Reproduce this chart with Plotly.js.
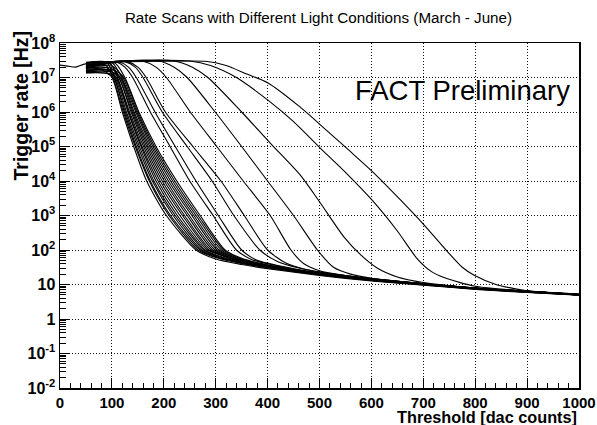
<!DOCTYPE html>
<html><head><meta charset="utf-8">
<script src="https://cdn.plot.ly/plotly-3.0.1.min.js"></script>
<style>html,body{margin:0;padding:0;background:#fff}</style>
</head><body><div id="chart" style="width:597px;height:425px"></div>
<script>
const chartTitle = 'Rate Scans with Different Light Conditions (March - June)';
const xTitle = 'Threshold [dac counts]';
const yTitle = 'Trigger rate [Hz]';
const watermark = 'FACT Preliminary';
const xTickVals = [0,100,200,300,400,500,600,700,800,900,1000];
const xTickText = ['0','100','200','300','400','500','600','700','800','900','1000'];
const yTickVals = [1e-2,1e-1,1,10,1e2,1e3,1e4,1e5,1e6,1e7,1e8];
const yTickText = ['10<sup>-2</sup>','10<sup>-1</sup>','1','10','10<sup>2</sup>','10<sup>3</sup>','10<sup>4</sup>','10<sup>5</sup>','10<sup>6</sup>','10<sup>7</sup>','10<sup>8</sup>'];

// threshold [dac counts] of each rate scan
const scanThreshold = [
 [50,82,100,120,142,167,205,262,300,350,400,500,600,700,800,900,1000],
 [50,70,88,102,122,145,172,210,266,300,350,400,500,600,700,800,900,1000],
 [50,86,103,124,147,174,213,270,300,350,400,500,600,700,800,900,1000],
 [50,75,92,105,126,150,178,218,273,300,350,400,500,600,700,800,900,1000],
 [50,88,106,128,153,181,222,277,300,350,400,500,600,700,800,900,1000],
 [50,90,108,131,156,185,226,280,300,350,400,500,600,700,800,900,1000],
 [50,93,109,132,158,189,231,284,300,350,400,500,600,700,800,900,1000],
 [50,80,96,111,134,161,193,236,287,300,350,400,500,600,700,800,900,1000],
 [50,95,113,137,164,197,240,291,350,400,500,600,700,800,900,1000],
 [50,78,98,114,139,167,201,245,295,350,400,500,600,700,800,900,1000],
 [50,98,116,141,170,205,249,299,350,400,500,600,700,800,900,1000],
 [50,100,117,143,173,209,254,303,350,400,500,600,700,800,900,1000],
 [50,80,101,119,146,176,213,258,307,350,400,500,600,700,800,900,1000],
 [50,102,121,148,179,217,262,311,350,400,500,600,700,800,900,1000],
 [50,104,123,150,182,221,266,315,350,400,500,600,700,800,900,1000],
 [50,82,106,125,152,185,225,270,318,350,400,500,600,700,800,900,1000],
 [50,80,110,125,140,174,212,250,295,340,370,400,450,500,600,700,800,900,1000],
 [50,85,115,132,147,183,222,262,305,350,380,420,500,600,700,800,900,1000],
 [50,90,125,145,160,197,245,293,335,385,420,460,500,600,700,800,900,1000],
 [50,95,130,150,166,203,256,310,355,400,435,470,520,600,700,800,900,1000],
 [50,100,160,185,205,251,302,353,405,445,470,500,550,600,700,800,900,1000],
 [50,110,190,220,245,299,350,400,450,496,527,560,600,700,800,900,1000],
 [50,120,220,255,285,350,405,463,500,547,580,611,650,700,800,900,1000],
 [50,130,250,290,340,400,450,505,550,601,650,688,715,740,800,900,1000],
 [0,15,30,45,60,100,200,280,320,360,400,463,500,556,600,656,700,749,775,798,840,875,900,1000]
];
// log10 of the trigger rate [Hz], same order
const scanLog10Rate = [
 [7.2,7.21,7.0,6.0,5.0,4.0,3.0,2.0,1.74,1.58,1.46,1.26,1.1,0.98,0.86,0.77,0.69],
 [7.38,7.4,7.36,7.0,6.0,5.0,4.0,3.0,2.0,1.78,1.61,1.5,1.3,1.14,1.01,0.89,0.79,0.71],
 [7.14,7.13,7.0,6.0,5.0,4.0,3.0,2.0,1.8,1.63,1.5,1.29,1.13,1.0,0.88,0.78,0.7],
 [7.42,7.45,7.4,7.0,6.0,5.0,4.0,3.0,2.0,1.82,1.62,1.49,1.28,1.12,0.99,0.87,0.78,0.7],
 [7.25,7.24,7.0,6.0,5.0,4.0,3.0,2.0,1.84,1.65,1.52,1.31,1.15,1.02,0.89,0.8,0.71],
 [7.3,7.28,7.0,6.0,5.0,4.0,3.0,2.0,1.86,1.63,1.5,1.29,1.13,1.0,0.88,0.79,0.7],
 [7.13,7.12,7.0,6.0,5.0,4.0,3.0,2.0,1.9,1.66,1.52,1.3,1.14,1.01,0.88,0.79,0.7],
 [7.44,7.47,7.42,7.0,6.0,5.0,4.0,3.0,2.0,1.92,1.64,1.5,1.29,1.13,1.0,0.87,0.78,0.7],
 [7.2,7.2,7.0,6.0,5.0,4.0,3.0,2.0,1.67,1.53,1.31,1.15,1.02,0.89,0.8,0.71],
 [7.37,7.42,7.38,7.0,6.0,5.0,4.0,3.0,2.0,1.66,1.51,1.3,1.13,1.0,0.88,0.79,0.7],
 [7.28,7.27,7.0,6.0,5.0,4.0,3.0,2.0,1.68,1.53,1.3,1.14,1.01,0.88,0.79,0.7],
 [7.17,7.16,7.0,6.0,5.0,4.0,3.0,2.0,1.7,1.54,1.32,1.16,1.02,0.89,0.8,0.71],
 [7.42,7.46,7.42,7.0,6.0,5.0,4.0,3.0,2.0,1.7,1.53,1.31,1.14,1.0,0.88,0.79,0.7],
 [7.32,7.32,7.0,6.0,5.0,4.0,3.0,2.0,1.72,1.55,1.33,1.16,1.03,0.9,0.8,0.71],
 [7.22,7.21,7.0,6.0,5.0,4.0,3.0,2.0,1.74,1.56,1.32,1.15,1.02,0.89,0.8,0.71],
 [7.4,7.46,7.42,7.0,6.0,5.0,4.0,3.0,2.0,1.76,1.57,1.33,1.16,1.02,0.9,0.8,0.71],
 [7.3,7.43,7.44,7.3,7.0,6.0,5.0,4.0,3.0,2.0,1.72,1.6,1.44,1.32,1.15,1.01,0.89,0.79,0.71],
 [7.25,7.44,7.45,7.3,7.0,6.0,5.0,4.0,3.0,2.0,1.7,1.55,1.33,1.15,1.01,0.89,0.79,0.71],
 [7.35,7.45,7.46,7.3,7.0,6.0,5.0,4.0,3.0,2.0,1.66,1.48,1.36,1.16,1.02,0.89,0.8,0.71],
 [7.28,7.45,7.46,7.3,7.0,6.0,5.0,4.0,3.0,2.0,1.62,1.45,1.32,1.17,1.02,0.9,0.8,0.71],
 [7.33,7.46,7.47,7.3,7.0,6.0,5.0,4.0,3.0,2.0,1.6,1.4,1.26,1.17,1.02,0.89,0.79,0.71],
 [7.27,7.46,7.48,7.3,7.0,6.0,5.0,4.0,3.0,2.0,1.5,1.3,1.18,1.03,0.9,0.8,0.71],
 [7.36,7.47,7.48,7.3,7.0,6.0,5.1,4.17,3.4,2.38,1.85,1.48,1.22,1.06,0.9,0.8,0.71],
 [7.3,7.47,7.48,7.35,7.0,6.35,5.72,4.9,4.25,3.45,2.55,1.75,1.38,1.2,0.95,0.81,0.72],
 [7.36,7.33,7.3,7.38,7.42,7.45,7.47,7.47,7.35,7.1,6.85,6.14,5.65,4.9,4.3,3.45,2.75,1.91,1.5,1.27,1.0,0.88,0.82,0.72]
];

const traces = scanThreshold.map((xs, i) => ({
  x: xs,
  y: scanLog10Rate[i].map(v => Math.pow(10, v)),
  type: 'scatter', mode: 'lines',
  line: {color: '#000', width: 1.1, shape: 'spline', smoothing: 0.7},
  hoverinfo: 'skip', showlegend: false
}));

const fam = 'Liberation Sans, Arial, sans-serif';
const boldFont = {family: fam, size: 15, color: '#000', weight: 'bold'};

const layout = {
  width: 597, height: 425,
  margin: {l: 60, r: 18, t: 43, b: 37},
  paper_bgcolor: '#fff', plot_bgcolor: '#fff',
  title: {text: chartTitle, font: {family: fam, size: 15.2, color: '#000'},
          x: 0.5335, xref: 'container', xanchor: 'center', y: 0.959, yref: 'container', yanchor: 'middle'},
  xaxis: {
    range: [0, 1000], tickmode: 'array', tickvals: xTickVals, ticktext: xTickText,
    ticks: 'inside', ticklen: 10, tickwidth: 1, tickcolor: '#000',
    minor: {ticks: 'inside', ticklen: 5, tickwidth: 1, tickcolor: '#000', dtick: 20, showgrid: false},
    showgrid: true, gridcolor: '#111', gridwidth: 1, griddash: '1px,2px',
    showline: true, linecolor: '#000', linewidth: 1.5, mirror: true, zeroline: false,
    tickfont: boldFont, fixedrange: true
  },
  yaxis: {
    type: 'log', range: [-2, 8], tickmode: 'array', tickvals: yTickVals, ticktext: yTickText,
    ticks: 'inside', ticklen: 10, tickwidth: 1, tickcolor: '#000',
    minor: {ticks: 'inside', ticklen: 6, tickwidth: 1, tickcolor: '#000', dtick: 'D1', showgrid: false},
    showgrid: true, gridcolor: '#111', gridwidth: 1, griddash: '1px,2px',
    showline: true, linecolor: '#000', linewidth: 1.5, mirror: true, zeroline: false,
    tickfont: Object.assign({}, boldFont, {size: 16}), fixedrange: true
  },
  annotations: [
    {text: watermark, xref: 'paper', yref: 'paper', x: 0.7755, y: 0.862, xanchor: 'center', yanchor: 'middle',
     showarrow: false, font: {family: fam, size: 27.5, color: '#000'}},
    {text: xTitle, xref: 'paper', yref: 'paper', x: 1, y: -0.1145, xanchor: 'right', yanchor: 'bottom',
     showarrow: false, font: Object.assign({}, boldFont, {size: 16.3})},
    {text: yTitle, xref: 'paper', yref: 'paper', x: -0.075, y: 0.819, xanchor: 'center', yanchor: 'middle',
     textangle: -90, showarrow: false, font: Object.assign({}, boldFont, {size: 19.5})}
  ]
};

Plotly.newPlot('chart', traces, layout, {staticPlot: true, displayModeBar: false});
</script></body></html>
